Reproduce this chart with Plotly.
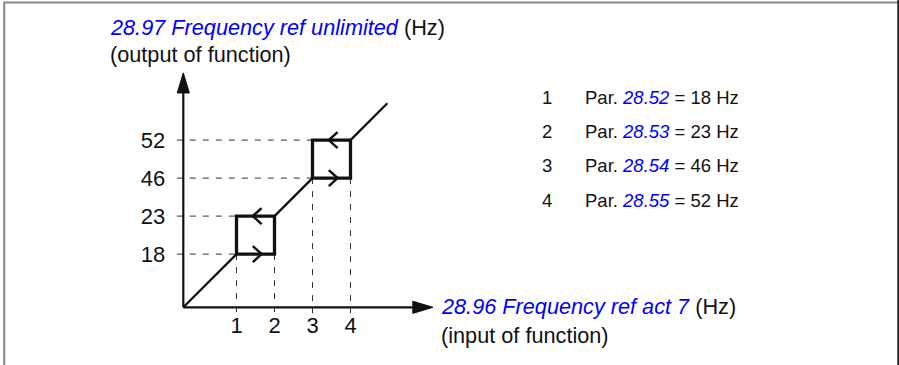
import plotly.graph_objects as go

# ---------------- data ----------------
input_labels = ["1", "2", "3", "4"]          # x tick labels (points 1..4)
output_values = [18, 23, 46, 52]             # Hz, y tick labels
param_ids = ["28.52", "28.53", "28.54", "28.55"]
unit = "Hz"
y_title_param = "28.97"
y_title_name = "Frequency ref unlimited"
y_title_sub = "(output of function)"
x_title_param = "28.96"
x_title_name = "Frequency ref act 7"
x_title_sub = "(input of function)"

# ---------------- layout helpers ----------------
W, H = 899, 365
U = 38.0                 # pixels per schematic step
OX, OY = 183.3, 307.3    # origin in pixels
FIRST = 1.4              # schematic offset of first point
pos = [FIRST + i for i in range(len(input_labels))]   # equally spaced schematic positions
x_rng = [-OX / U, (W - OX) / U]
y_rng = [-(H - OY) / U, OY / U]

BLUE = "#0000ff"
BLACK = "#111111"
FONT = "Liberation Sans, Arial, sans-serif"
TITLE_SIZE = 21.7
TICK_SIZE = 22
LEG_SIZE = 18.5


def px(x):
    return x / W


def py(y):
    return 1 - y / H


fig = go.Figure()

# dashed guide lines
DASH = "6px,7px"
gx, gy = [], []
for i in range(len(pos)):
    left_corner = pos[(i // 2) * 2]
    gx += [-0.17, left_corner, None]
    gy += [pos[i], pos[i], None]
    gx += [pos[i], pos[i], None]
    gy += [left_corner, -0.16, None]
fig.add_trace(go.Scatter(x=gx, y=gy, mode="lines",
                         line=dict(color="#333333", width=1, dash=DASH),
                         hoverinfo="skip", showlegend=False))

# diagonal (thin) parts of the transfer curve
end_diag = 5.37
dx = [0, pos[0], None, pos[1], pos[2], None, pos[3], end_diag]
dy = [0, pos[0], None, pos[1], pos[2], None, pos[3], end_diag]
fig.add_trace(go.Scatter(x=dx, y=dy, mode="lines",
                         line=dict(color=BLACK, width=2.3),
                         hoverinfo="skip", showlegend=False))

# hysteresis loops (thick)
lx, ly = [], []
for k in range(0, len(pos), 2):
    a, b = pos[k], pos[k + 1]
    lx += [a, b, b, a, a, None]
    ly += [a, a, b, b, a, None]
fig.add_trace(go.Scatter(x=lx, y=ly, mode="lines",
                         line=dict(color=BLACK, width=3.3),
                         hoverinfo="skip", showlegend=False))

# chevrons on loops
cx, cy = [], []
TIP, BACK, ARM = 0.66, 0.43, 0.21
for k in range(0, len(pos), 2):
    a, b = pos[k], pos[k + 1]
    cx += [a + BACK, a + TIP, a + BACK, None]
    cy += [a + ARM, a, a - ARM, None]
    cx += [a + TIP, a + BACK, a + TIP, None]
    cy += [b + ARM, b, b - ARM, None]
fig.add_trace(go.Scatter(x=cx, y=cy, mode="lines",
                         line=dict(color=BLACK, width=2.5),
                         hoverinfo="skip", showlegend=False))

# axes with arrow heads
X_TIP, Y_TIP = 6.57, 6.17
HL, HW = 0.53, 0.16
fig.add_trace(go.Scatter(x=[0, X_TIP - HL, None, 0, 0], y=[0, 0, None, 0, Y_TIP - HL],
                         mode="lines", line=dict(color=BLACK, width=2.2),
                         hoverinfo="skip", showlegend=False))
fig.add_trace(go.Scatter(x=[X_TIP - HL, X_TIP, X_TIP - HL, X_TIP - HL],
                         y=[HW, 0, -HW, HW], mode="lines", fill="toself",
                         fillcolor=BLACK, line=dict(color=BLACK, width=1),
                         hoverinfo="skip", showlegend=False))
fig.add_trace(go.Scatter(x=[-HW, 0, HW, -HW],
                         y=[Y_TIP - HL, Y_TIP, Y_TIP - HL, Y_TIP - HL], mode="lines",
                         fill="toself", fillcolor=BLACK, line=dict(color=BLACK, width=1),
                         hoverinfo="skip", showlegend=False))

# ---------------- annotations ----------------
ann = []


def blue(t):
    return f'<span style="color:{BLUE}"><i>{t}</i></span>'


ann.append(dict(text=f"{blue(y_title_param + ' ' + y_title_name)} ({unit})",
                x=px(108), y=py(27), xanchor="left", yanchor="middle",
                font=dict(size=TITLE_SIZE)))
ann.append(dict(text=y_title_sub, x=px(108), y=py(55), xanchor="left",
                yanchor="middle", font=dict(size=TITLE_SIZE)))
ann.append(dict(text=f"{blue(x_title_param + ' ' + x_title_name)} ({unit})",
                x=px(439), y=py(306), xanchor="left", yanchor="middle",
                font=dict(size=TITLE_SIZE)))
ann.append(dict(text=x_title_sub, x=px(439), y=py(335), xanchor="left",
                yanchor="middle", font=dict(size=TITLE_SIZE)))

for i, (pid, val) in enumerate(zip(param_ids, output_values)):
    yy = 97 + i * 34.4
    ann.append(dict(text=input_labels[i], x=px(547), y=py(yy), xanchor="center",
                    yanchor="middle", font=dict(size=LEG_SIZE)))
    ann.append(dict(text=f"Par. {blue(pid)} = {val} {unit}", x=px(583), y=py(yy),
                    xanchor="left", yanchor="middle", font=dict(size=LEG_SIZE)))

for a in ann:
    a.update(xref="paper", yref="paper", showarrow=False)
    a["font"].update(family=FONT, color=BLACK)

# frame lines
shapes = [
    dict(type="line", xref="paper", yref="paper", x0=px(3.5), x1=px(898), y0=py(2.6), y1=py(2.6),
         line=dict(color="#888888", width=2)),
    dict(type="line", xref="paper", yref="paper", x0=px(4.2), x1=px(4.2), y0=py(2), y1=0,
         line=dict(color="#888888", width=2)),
    dict(type="line", xref="paper", yref="paper", x0=px(898.3), x1=px(898.3), y0=1, y1=0,
         line=dict(color="#222222", width=2)),
]

fig.update_layout(
    width=W, height=H,
    margin=dict(l=0, r=0, t=0, b=0),
    paper_bgcolor="white", plot_bgcolor="white",
    showlegend=False,
    annotations=ann,
    shapes=shapes,
    font=dict(family=FONT, color=BLACK),
    xaxis=dict(range=x_rng, showgrid=False, zeroline=False, showline=False,
               tickvals=pos, ticktext=input_labels, ticks="",
               tickfont=dict(size=TICK_SIZE, family=FONT, color=BLACK),
               anchor="free", position=(0 - y_rng[0]) / (y_rng[1] - y_rng[0]),
               ticklabelstandoff=3, fixedrange=True),
    yaxis=dict(range=y_rng, showgrid=False, zeroline=False, showline=False,
               tickvals=pos, ticktext=[str(v) for v in output_values], ticks="",
               tickfont=dict(size=TICK_SIZE, family=FONT, color=BLACK),
               anchor="free", position=(0 - x_rng[0]) / (x_rng[1] - x_rng[0]),
               ticklabelstandoff=18, fixedrange=True),
)

fig.write_html("out.html", config={"displayModeBar": False},
               post_script="document.body.style.margin='0';document.body.style.overflow='hidden';")
